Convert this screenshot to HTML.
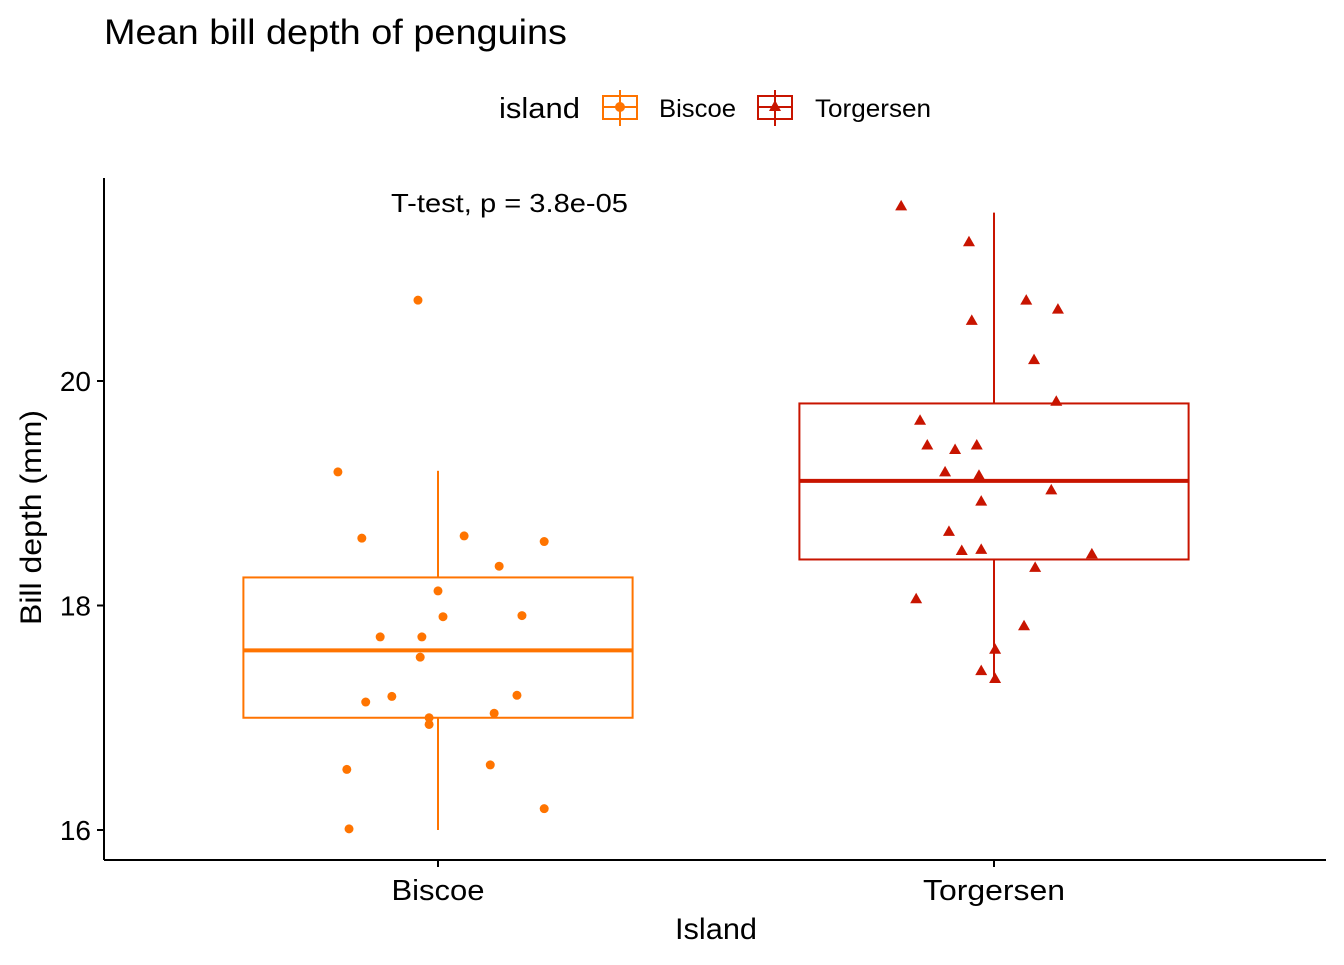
<!DOCTYPE html>
<html><head><meta charset="utf-8"><style>
body{margin:0;background:#fff;font-family:"Liberation Sans",Arial,sans-serif}
svg text{font-family:"Liberation Sans",Arial,sans-serif}
</style></head><body>
<svg id="chart" width="1344" height="960" viewBox="0 0 1344 960">
<text x="104" y="44" font-size="35" textLength="463" lengthAdjust="spacingAndGlyphs" fill="#000">Mean bill depth of penguins</text>
<g>
<text x="499" y="118" font-size="29" textLength="81" lengthAdjust="spacingAndGlyphs" fill="#000">island</text>
<g>
<line x1="620" y1="90" x2="620" y2="126" stroke="#FF7400" stroke-width="2"/>
<rect x="603" y="96" width="34" height="23" fill="none" stroke="#FF7400" stroke-width="2"/>
<line x1="603" y1="107" x2="637" y2="107" stroke="#FF7400" stroke-width="2"/>
<circle cx="620" cy="107" r="5" fill="#FF7400"/>
<text x="659" y="117" font-size="25" textLength="77" lengthAdjust="spacingAndGlyphs">Biscoe</text>
</g>
<g>
<line x1="775" y1="90" x2="775" y2="126" stroke="#C81400" stroke-width="2"/>
<rect x="758" y="96" width="34" height="23" fill="none" stroke="#C81400" stroke-width="2"/>
<line x1="758" y1="107" x2="792" y2="107" stroke="#C81400" stroke-width="2"/>
<polygon points="775,100 781,111 769,111" fill="#C81400"/>
<text x="815" y="117" font-size="25" textLength="116" lengthAdjust="spacingAndGlyphs">Torgersen</text>
</g>
</g>
<g id="plot"></g>
</svg>
<script>
const categories = ["Biscoe","Torgersen"];
const colors = ["#FF7400","#C81400"];
const yTicks = [16,18,20];
const biscoeValues = [20.72,19.19,18.60,18.62,18.57,18.35,18.13,17.90,17.91,17.72,17.72,17.54,17.19,17.14,17.20,17.04,17.00,16.94,16.54,16.58,16.19,16.01];
const biscoeJitter = [-0.036,-0.18,-0.137,0.047,0.191,0.110,0,0.009,0.151,-0.104,-0.029,-0.032,-0.083,-0.130,0.142,0.101,-0.016,-0.016,-0.164,0.094,0.191,-0.160];
const torgValues = [21.56,21.24,20.72,20.54,20.64,20.19,19.82,19.65,19.43,19.39,19.43,19.19,19.16,18.93,19.03,18.66,18.49,18.50,18.46,18.34,18.06,17.82,17.61,17.42,17.35];
const torgJitter = [-0.167,-0.045,0.058,-0.040,0.115,0.072,0.112,-0.133,-0.120,-0.070,-0.031,-0.088,-0.027,-0.023,0.103,-0.081,-0.058,-0.023,0.176,0.074,-0.140,0.054,0.002,-0.023,0.002];
const boxStats = [ // [lowerWhisker, q1, median, q3, upperWhisker]
  [16.0,17.0,17.6,18.25,19.2],
  [17.35,18.41,19.11,19.80,21.5]
];
const pLabel = "T-test, p = 3.8e-05";

const NS="http://www.w3.org/2000/svg";
const g=document.getElementById('plot');
const yS=v=>381-(v-20)*112.25;
const xS=c=>438+c*556;
function mk(t,a){const e=document.createElementNS(NS,t);for(const k in a)e.setAttribute(k,a[k]);g.appendChild(e);return e;}
let ax=mk('line',{x1:104,y1:178,x2:104,y2:860,stroke:'#000','stroke-width':2});


ax=mk('line',{x1:104,y1:860,x2:1326,y2:860,stroke:'#000','stroke-width':2});


yTicks.forEach(v=>{
  const t=mk('line',{x1:97,x2:104,y1:yS(v),y2:yS(v),stroke:'#000','stroke-width':2});
  
  
  const l=mk('text',{x:91,y:yS(v)+10,'font-size':28,'text-anchor':'end'});
  l.textContent=v;
  
  
});
const xLabW=[93,142];
categories.forEach((c,i)=>{
  const t=mk('line',{x1:xS(i),x2:xS(i),y1:860,y2:867,stroke:'#000','stroke-width':2});
  
  
  const l=mk('text',{x:xS(i)-xLabW[i]/2,y:900,'font-size':29,textLength:xLabW[i],lengthAdjust:'spacingAndGlyphs'});
  l.textContent=c;
  
  
});
let tt=mk('text',{x:675,y:939,'font-size':30,textLength:82,lengthAdjust:'spacingAndGlyphs'});
tt.textContent='Island';


tt=mk('text',{x:0,y:0,'font-size':30,textLength:215,lengthAdjust:'spacingAndGlyphs',transform:'translate(41 625) rotate(-90)'});
tt.textContent='Bill depth (mm)';


tt=mk('text',{x:391,y:212,'font-size':26,textLength:237,lengthAdjust:'spacingAndGlyphs'});
tt.textContent=pLabel;


boxStats.forEach((s,i)=>{
  const x=xS(i),hw=0.35*556,col=colors[i];
  let e=mk('line',{x1:x,x2:x,y1:yS(s[4]),y2:yS(s[3]),stroke:col,'stroke-width':2});
  
  
  e=mk('line',{x1:x,x2:x,y1:yS(s[1]),y2:yS(s[0]),stroke:col,'stroke-width':2});
  
  
  e=mk('rect',{x:x-hw,y:yS(s[3]),width:2*hw,height:yS(s[1])-yS(s[3]),fill:'none',stroke:col,'stroke-width':2});
  
  
  e=mk('line',{x1:x-hw,x2:x+hw,y1:yS(s[2]),y2:yS(s[2]),stroke:col,'stroke-width':4});
  
  
});
biscoeValues.forEach((v,j)=>{
  const p=mk('circle',{cx:xS(0+biscoeJitter[j]),cy:yS(v),r:4.5,fill:colors[0]});
  
  
});
torgValues.forEach((v,j)=>{
  const x=xS(1+torgJitter[j]),y=yS(v);
  const p=mk('polygon',{points:`${x},${y-6} ${x+6},${y+4.5} ${x-6},${y+4.5}`,fill:colors[1]});
  
  
});
</script>
</body></html>
